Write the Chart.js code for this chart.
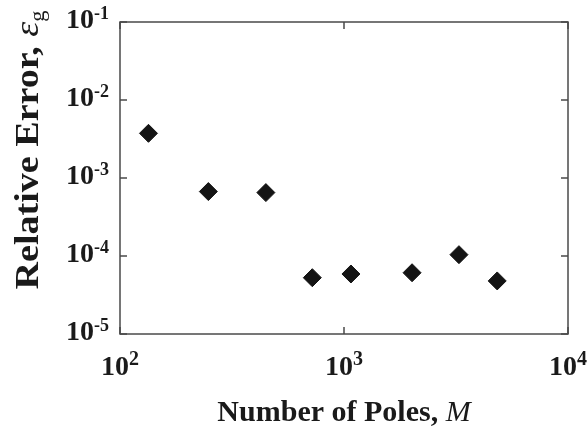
<!DOCTYPE html>
<html>
<head>
<meta charset="utf-8">
<script src="https://cdn.jsdelivr.net/npm/chart.js@4"></script>
<style>
html,body{margin:0;padding:0;background:#fff;}
#wrap{width:588px;height:430px;position:relative;}
</style>
</head>
<body>
<div id="wrap"><canvas id="c" width="588" height="430"></canvas></div>
<script>
// ---- data ----
const poles = [134, 248, 448, 722, 1074, 2013, 3260, 4830];
const relErrors = [3.74e-3, 6.7e-4, 6.5e-4, 5.27e-5, 5.88e-5, 6.1e-5, 1.04e-4, 4.79e-5];
const xTickValues = [100, 1000, 10000];
const xTickExponents = ['2', '3', '4'];
const yTickValues = [1e-1, 1e-2, 1e-3, 1e-4, 1e-5];
const yTickExponents = ['-1', '-2', '-3', '-4', '-5'];
const xTitleMain = 'Number of Poles, ';
const xTitleVar = 'M';
const yTitleMain = 'Relative Error, ';
const yTitleVar = '\u03b5';
const yTitleSub = 'g';

const SERIF = '"Liberation Serif", "Times New Roman", serif';

const decor = {
  id: 'decor',
  afterDraw(chart) {
    const ctx = chart.ctx;
    const a = chart.chartArea;
    const xs = chart.scales.x, ys = chart.scales.y;
    ctx.save();
    // frame
    ctx.strokeStyle = '#4a4a4a';
    ctx.lineWidth = 1.5;
    ctx.strokeRect(a.left, a.top, a.right - a.left, a.bottom - a.top);
    // inward ticks
    const tl = 7;
    ctx.beginPath();
    yTickValues.forEach(v => {
      const y = ys.getPixelForValue(v);
      ctx.moveTo(a.left, y); ctx.lineTo(a.left + tl, y);
      ctx.moveTo(a.right, y); ctx.lineTo(a.right - tl, y);
    });
    xTickValues.forEach(v => {
      const x = xs.getPixelForValue(v);
      ctx.moveTo(x, a.bottom); ctx.lineTo(x, a.bottom - tl);
      ctx.moveTo(x, a.top); ctx.lineTo(x, a.top + tl);
    });
    ctx.stroke();

    ctx.fillStyle = '#1a1a1a';
    ctx.textBaseline = 'alphabetic';
    // y tick labels
    yTickValues.forEach((v, i) => {
      const y = ys.getPixelForValue(v);
      ctx.font = 'bold 18px ' + SERIF;
      const sw = ctx.measureText(yTickExponents[i]).width;
      ctx.font = 'bold 28px ' + SERIF;
      const bw = ctx.measureText('10').width;
      const right = 109;
      ctx.textAlign = 'left';
      ctx.fillText('10', right - sw - bw, y + 6);
      ctx.font = 'bold 18px ' + SERIF;
      ctx.fillText(yTickExponents[i], right - sw, y - 3);
    });
    // x tick labels
    xTickValues.forEach((v, i) => {
      const x = xs.getPixelForValue(v);
      ctx.font = 'bold 20px ' + SERIF;
      const sw = ctx.measureText(xTickExponents[i]).width;
      ctx.font = 'bold 28px ' + SERIF;
      const bw = ctx.measureText('10').width;
      const left = x - (sw + bw) / 2;
      ctx.textAlign = 'left';
      ctx.fillText('10', left, 375);
      ctx.font = 'bold 20px ' + SERIF;
      ctx.fillText(xTickExponents[i], left + bw, 365);
    });
    // x title
    ctx.font = 'bold 30px ' + SERIF;
    const w1 = ctx.measureText(xTitleMain).width;
    ctx.font = 'italic 30px ' + SERIF;
    const w2 = ctx.measureText(xTitleVar).width;
    const cx = (a.left + a.right) / 2;
    let sx = cx - (w1 + w2) / 2;
    ctx.font = 'bold 30px ' + SERIF;
    ctx.fillText(xTitleMain, sx, 421);
    ctx.font = 'italic 30px ' + SERIF;
    ctx.fillText(xTitleVar, sx + w1, 421);
    // y title (rotated)
    ctx.save();
    ctx.translate(38, 150);
    ctx.rotate(-Math.PI / 2);
    ctx.scale(1.12, 1);
    ctx.font = 'bold 34px ' + SERIF;
    const m1 = ctx.measureText(yTitleMain).width;
    ctx.font = 'italic 34px ' + SERIF;
    const m2 = ctx.measureText(yTitleVar).width;
    ctx.font = '20px ' + SERIF;
    const m3 = ctx.measureText(yTitleSub).width;
    let tx = -(m1 + m2 + m3) / 2;
    ctx.font = 'bold 34px ' + SERIF;
    ctx.fillText(yTitleMain, tx, 0);
    ctx.font = 'italic 34px ' + SERIF;
    ctx.fillText(yTitleVar, tx + m1, 0);
    ctx.font = '20px ' + SERIF;
    ctx.fillText(yTitleSub, tx + m1 + m2, 6);
    ctx.restore();
    ctx.restore();
  }
};

new Chart(document.getElementById('c'), {
  type: 'scatter',
  data: {
    datasets: [{
      data: poles.map((p, i) => ({ x: p, y: relErrors[i] })),
      pointStyle: 'rectRot',
      pointRadius: 9,
      pointHoverRadius: 9,
      backgroundColor: '#141414',
      borderColor: '#141414',
      borderWidth: 1
    }]
  },
  options: {
    responsive: false,
    animation: false,
    events: [],
    layout: { padding: { top: 22, right: 20, left: 0, bottom: 0 } },
    plugins: { legend: { display: false }, tooltip: { enabled: false } },
    scales: {
      x: {
        type: 'logarithmic', min: 100, max: 10000,
        grid: { display: false }, border: { display: false },
        ticks: { display: false },
        afterFit(s) { s.height = 96; }
      },
      y: {
        type: 'logarithmic', min: 1e-5, max: 1e-1,
        grid: { display: false }, border: { display: false },
        ticks: { display: false },
        afterFit(s) { s.width = 120; }
      }
    }
  },
  plugins: [decor]
});
</script>
</body>
</html>
